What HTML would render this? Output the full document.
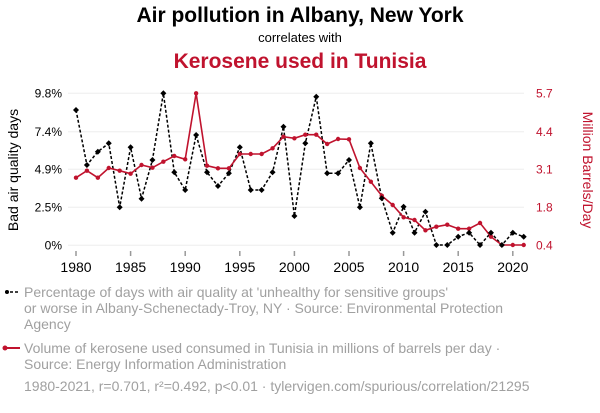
<!DOCTYPE html>
<html><head><meta charset="utf-8"><style>
body{margin:0;background:#fff;width:600px;height:408px;overflow:hidden}
svg text{font-family:"Liberation Sans",sans-serif}
</style></head><body>
<svg id="s" width="600" height="408" xmlns="http://www.w3.org/2000/svg">
<text x="300" y="22" text-anchor="middle" font-size="21" font-weight="bold" fill="#000">Air pollution in Albany, New York</text>
<text x="300" y="42" text-anchor="middle" font-size="13" fill="#000">correlates with</text>
<text x="300" y="68" text-anchor="middle" font-size="21" font-weight="bold" fill="#c0132e">Kerosene used in Tunisia</text>
<g stroke="#eee" stroke-width="1">
<line x1="68" x2="524" y1="93.3" y2="93.3"/><line x1="68" x2="524" y1="131.7" y2="131.7"/><line x1="68" x2="524" y1="169.3" y2="169.3"/><line x1="68" x2="524" y1="207.3" y2="207.3"/><line x1="68" x2="524" y1="245.3" y2="245.3"/>
</g>
<g font-size="12" fill="#000" text-anchor="end">
<text x="62" y="97.5">9.8%</text><text x="62" y="136">7.4%</text><text x="62" y="173.5">4.9%</text><text x="62" y="211.5">2.5%</text><text x="62" y="249.5">0%</text>
</g>
<g font-size="12" fill="#c0132e" text-anchor="start">
<text x="536" y="97.5">5.7</text><text x="536" y="136">4.4</text><text x="536" y="173.5">3.1</text><text x="536" y="211.5">1.8</text><text x="536" y="249.5">0.4</text>
</g>
<text transform="translate(18,170) rotate(-90)" text-anchor="middle" font-size="14" fill="#000">Bad air quality days</text>
<text transform="translate(583,170) rotate(90)" text-anchor="middle" font-size="14" fill="#c0132e">Million Barrels/Day</text>
<g id="xt" font-size="14" fill="#000" text-anchor="middle"></g>
<g id="plot"></g>
<line x1="5" x2="20" y1="292" y2="292" stroke="#000" stroke-width="1.5" stroke-dasharray="3,2"/>
<circle cx="7" cy="292" r="2" fill="#000"/>
<line x1="5" x2="20" y1="348" y2="348" stroke="#c0132e" stroke-width="2"/>
<circle cx="5" cy="348" r="2.5" fill="#c0132e"/>
<g font-size="14" fill="#a0a0a0">
<text x="24" y="297">Percentage of days with air quality at 'unhealthy for sensitive groups'</text>
<text x="24" y="313">or worse in Albany-Schenectady-Troy, NY · Source: Environmental Protection</text>
<text x="24" y="329">Agency</text>
<text x="24" y="353">Volume of kerosene used consumed in Tunisia in millions of barrels per day ·</text>
<text x="24" y="369">Source: Energy Information Administration</text>
<text x="24" y="391">1980-2021, r=0.701, r²=0.492, p&lt;0.01 · tylervigen.com/spurious/correlation/21295</text>
</g>
</svg>
<script>
var NS="http://www.w3.org/2000/svg";
var b=[110,165,151.7,143.3,207.3,147.3,198.7,160,93.3,172.3,190,135,172.3,186,173.3,147.3,190,190,172.3,126.7,216,143.3,96.7,173.3,173.3,160,207.3,143.3,198.3,232.7,206.7,232.7,211.7,245,245,236.7,232.7,245,232.7,245,232.7,236.7];
var r=[177.7,170.7,177.7,168,170.7,173.7,165,167.7,161.7,156,159.3,93.3,165.7,168.3,168.3,154,154,154,148.3,136.7,138.3,134.7,134.7,144,139,139.3,168,181.7,195.7,205,217.3,220,230.3,226.7,224.7,228.7,228.7,223,236.7,245,245,245];
function X(i){return 76+i*10.92;}
function el(t,a,p){var e=document.createElementNS(NS,t);for(var k in a)e.setAttribute(k,a[k]);p.appendChild(e);return e;}
var s=document.getElementById("plot"),xt=document.getElementById("xt");
for(var y=1980;y<=2020;y+=5){var x=X(y-1980);el("line",{x1:x,x2:x,y1:251,y2:256,stroke:"#999","stroke-width":1.5},xt);var t=el("text",{x:x,y:272},xt);t.textContent=y;}
el("polyline",{points:b.map(function(v,i){return X(i)+","+v}).join(" "),fill:"none",stroke:"#000","stroke-width":1.5,"stroke-dasharray":"3,2"},s);
el("polyline",{points:r.map(function(v,i){return X(i)+","+v}).join(" "),fill:"none",stroke:"#c0132e","stroke-width":1.6},s);
r.forEach(function(v,i){el("circle",{cx:X(i),cy:v,r:2.2,fill:"#c0132e"},s);});
b.forEach(function(v,i){var x=X(i);el("polygon",{points:(x)+","+(v-3)+" "+(x+3)+","+v+" "+x+","+(v+3)+" "+(x-3)+","+v,fill:"#000"},s);});
</script>
</body></html>
